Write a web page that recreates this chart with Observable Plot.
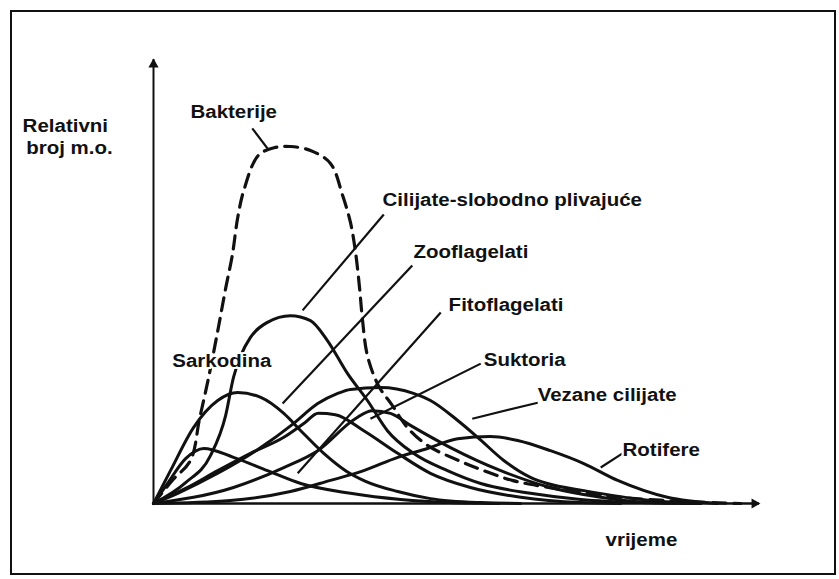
<!DOCTYPE html>
<html>
<head>
<meta charset="utf-8">
<script src="https://cdn.jsdelivr.net/npm/d3@7"></script>
<script src="https://cdn.jsdelivr.net/npm/@observablehq/plot@0.6"></script>
<style>
  html, body { margin: 0; padding: 0; background: #fff; }
  #wrap { position: relative; width: 839px; height: 579px; }
  #frame { position: absolute; left: 10px; top: 10px; width: 826px; height: 565px; border: 2px solid #111; box-sizing: border-box; }
  #chart { position: absolute; left: 0; top: 0; }
</style>
</head>
<body>
<div id="wrap"><div id="frame"></div><div id="chart"></div></div>
<script>
// ---- data: [time, relative number] (arbitrary units 0-100) ----
const bakterije = [[0,0],[3.1,5.2],[6.1,9.7],[7.6,19.1],[9.1,28.4],[10.7,39.6],[11.9,48.4],[13.0,55.9],[13.9,64.4],[14.9,70.5],[17.3,78.4],[20.1,80.2],[22.6,80.4],[25.9,79.5],[29.2,76.6],[31.2,69.4],[32.5,63.3],[33.3,57.0],[34.0,48.6],[34.5,41.2],[35.3,33.3],[37.1,26.6],[39.4,22.1],[41.9,17.1],[45.2,13.1],[50.3,9.7],[54.5,7.4],[59.2,5.2],[64.4,3.8],[70.5,2.5],[77.1,1.4],[87.0,0.5],[96.9,0]];
const sarkodina = [[0,0],[2.3,4.5],[5.3,10.1],[8.3,12.4],[13.2,10.4],[18.8,7.4],[24.3,4.5],[32.5,2.3],[40.8,0.9],[49.0,0.2],[57.0,0]];
const zooflagelati = [[0,0],[2.8,7.4],[6.6,17.1],[10.6,23.2],[13.9,25.0],[17.7,23.9],[21.5,20.3],[24.3,16.4],[28.1,11.3],[31.7,7.4],[35.0,5.0],[40.3,2.7],[45.7,1.1],[54.0,0.2],[60.6,0]];
const cilijateSlobodne = [[0,0],[5.3,4.7],[9.4,10.8],[11.9,19.8],[13.2,28.4],[14.4,33.3],[16.0,37.4],[18.8,40.8],[22.6,42.3],[25.9,41.2],[28.7,36.7],[32.0,29.3],[35.3,23.2],[38.6,16.4],[42.9,11.3],[48.5,7.4],[54.0,4.5],[62.2,2.3],[70.5,0.9],[80.4,0.2],[90.3,0]];
const fitoflagelati = [[0,0],[5.3,3.4],[10.6,7.4],[16.0,11.3],[21.5,14.9],[24.8,18.0],[27.2,20.3],[30.0,20.0],[34.7,16.4],[40.3,11.3],[45.7,6.8],[52.3,3.6],[60.6,1.4],[70.5,0.2],[77.1,0]];
const suktoria = [[0,0],[13.2,3.6],[21.5,8.1],[27.1,11.9],[33.3,19.1],[36.1,20.9],[39.1,20.3],[42.4,17.6],[49.0,12.6],[57.3,7.4],[65.5,3.6],[73.8,1.4],[82.0,0.2],[90.3,0]];
const vezaneCilijate = [[0,0],[4.0,2.3],[10.6,6.8],[17.7,12.6],[23.1,18.0],[27.1,22.5],[30.4,24.8],[32.5,25.7],[37.5,26.1],[42.9,24.8],[45.7,23.2],[50.2,18.7],[53.5,14.9],[57.8,9.7],[62.2,5.9],[65.0,4.5],[71.0,2.9],[82.0,0.7],[90.3,0]];
const rotifere = [[0,0],[12.7,0.7],[22.6,2.7],[29.2,5.2],[34.7,7.4],[40.3,10.4],[45.2,12.4],[50.2,14.6],[55.6,15.1],[60.1,14.2],[65.5,11.9],[71.0,9.0],[76.6,5.2],[84.8,1.4],[93.1,0]];

// labels (left edge x, middle y) and leader lines
const labelText = ["Relativni","broj m.o.","Bakterije","Cilijate-slobodno plivajuće","Zooflagelati","Fitoflagelati","Suktoria","Vezane cilijate","Rotifere","Sarkodina","vrijeme"];
const labelX = [-21.6,-21.0,6.1,37.8,42.9,48.7,54.5,63.4,77.4,3.1,74.6];
const labelY = [84.9,80.0,88.1,68.2,56.5,44.6,32.2,24.3,11.9,32.0,-8.3];
const leaderX1 = [16.3,38.0,42.7,47.4,54.0,63.4,77.4];
const leaderY1 = [84.5,65.1,53.6,43.0,31.5,22.7,11.3];
const leaderX2 = [18.8,24.6,21.3,23.8,35.8,52.6,73.8];
const leaderY2 = [80.0,43.5,22.5,6.8,19.1,19.1,8.1];

const solidSeries = {sarkodina, zooflagelati, cilijateSlobodne, fitoflagelati, suktoria, vezaneCilijate, rotifere};
const solidRows = Object.entries(solidSeries).flatMap(([k, arr]) => arr.map(([x, y]) => ({series: k, x, y})));
const bactRows = bakterije.map(([x, y]) => ({x, y}));
const labelRows = labelText.map((t, i) => ({t, x: labelX[i], y: labelY[i]}));
const leaderRows = leaderX1.map((x1, i) => ({x1, y1: leaderY1[i], x2: leaderX2[i], y2: leaderY2[i]}));

const chart = Plot.plot({
  width: 839,
  height: 579,
  marginLeft: 153,
  marginRight: 80,
  marginTop: 59,
  marginBottom: 76,
  x: {domain: [0, 100], axis: null},
  y: {domain: [0, 100], axis: null},
  style: {background: "transparent", fontFamily: "'Liberation Sans', Arial, sans-serif"},
  marks: [
    Plot.ruleX([0], {y1: 0, y2: 100, stroke: "#111", strokeWidth: 2}),
    Plot.ruleY([0], {x1: 0, x2: 100, stroke: "#111", strokeWidth: 2.5}),
    Plot.dot([{x: 0, y: 100}], {x: "x", y: "y", symbol: "triangle", r: 3.8, fill: "#111", stroke: "none", dy: 5}),
    Plot.dot([{x: 100, y: 0}], {x: "x", y: "y", symbol: "triangle", r: 3.8, fill: "#111", stroke: "none", rotate: 90, dx: -5}),
    Plot.line(solidRows, {x: "x", y: "y", z: "series", stroke: "#111", strokeWidth: 3, curve: "monotone-x"}),
    Plot.line(bactRows, {x: "x", y: "y", stroke: "#111", strokeWidth: 3.2, strokeDasharray: "13,8", curve: "catmull-rom"}),
    Plot.link(leaderRows, {x1: "x1", y1: "y1", x2: "x2", y2: "y2", stroke: "#111", strokeWidth: 2.2}),
    Plot.text(labelRows, {x: "x", y: "y", text: "t", textAnchor: "start", lineAnchor: "middle", fontSize: 17.5, fontWeight: "bold", fill: "#111", stroke: "white", strokeWidth: 4, clip: false})
  ]
});
document.getElementById("chart").appendChild(chart);
// horizontal stretch of the scanned lettering
d3.select(chart).selectAll("text").each(function() {
  const w = this.getComputedTextLength();
  this.setAttribute("textLength", (w * 1.17).toFixed(1));
  this.setAttribute("lengthAdjust", "spacingAndGlyphs");
});
</script>
</body>
</html>
